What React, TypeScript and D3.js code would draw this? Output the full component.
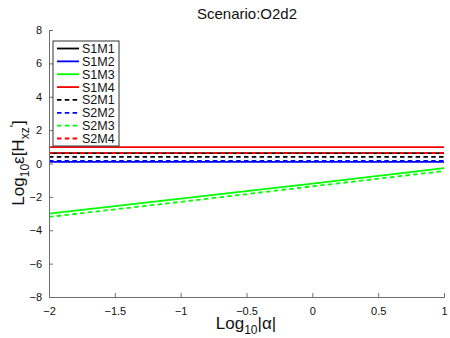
import React, { useEffect, useRef } from 'react';
import * as d3 from 'd3';

const WIDTH = 450;
const HEIGHT = 338;
const MARGIN = { top: 30, right: 6, bottom: 41, left: 49 };

// log10|alpha| sample points
const xs = [-2, -1, 0, 1];

// series values
const s1m1 = [0.62, 0.62, 0.62, 0.62];
const s1m2 = [0.1, 0.1, 0.1, 0.1];
const s1m3 = [-3.0, -2.1, -1.2, -0.28];
const s1m4 = [0.98, 0.98, 0.98, 0.98];
const s2m1 = [0.4, 0.4, 0.4, 0.4];
const s2m2 = [0.16, 0.16, 0.16, 0.16];
const s2m3 = [-3.2, -2.3, -1.37, -0.45];
const s2m4 = [0.63, 0.63, 0.63, 0.63];

const seriesNames = ['S1M1', 'S1M2', 'S1M3', 'S1M4', 'S2M1', 'S2M2', 'S2M3', 'S2M4'];
const seriesValues = [s1m1, s1m2, s1m3, s1m4, s2m1, s2m2, s2m3, s2m4];
const seriesColors = ['#000000', '#0000ff', '#00ff00', '#ff0000', '#000000', '#0000ff', '#00ff00', '#ff0000'];
const seriesDashed = [false, false, false, false, true, true, true, true];

const xTicks = [-2, -1.5, -1, -0.5, 0, 0.5, 1];
const yTicks = [-8, -6, -4, -2, 0, 2, 4, 6, 8];

const FONT = '"Liberation Sans", Arial, sans-serif';
const AXIS_COLOR = '#6e6e6e';

export default function App() {
    const plotRef = useRef<SVGGElement>(null);

    useEffect(() => {
        const root = d3.select(plotRef.current);
        root.selectAll('*').remove();

        const plotW = WIDTH - MARGIN.left - MARGIN.right;
        const plotH = HEIGHT - MARGIN.top - MARGIN.bottom;

        const x = d3.scaleLinear().domain([-2, 1]).range([0, plotW]);
        const y = d3.scaleLinear().domain([-8, 8]).range([plotH, 0]);

        const g = root
            .append('g')
            .attr('transform', `translate(${MARGIN.left},${MARGIN.top})`);

        // lines
        const line = d3
            .line<number>()
            .x((_, i) => x(xs[i]))
            .y((d) => y(d));

        seriesValues.forEach((vals, i) => {
            g.append('path')
                .datum(vals)
                .attr('fill', 'none')
                .attr('stroke', seriesColors[i])
                .attr('stroke-width', 1.8)
                .attr('stroke-dasharray', seriesDashed[i] ? '4.5,3.3' : null)
                .attr('d', line);
        });

        // axes (MATLAB style, ticks inward, box off)
        const xAxis = d3
            .axisBottom(x)
            .tickValues(xTicks)
            .tickSizeInner(-4)
            .tickSizeOuter(-4)
            .tickPadding(10)
            .tickFormat((d) => d3.format('~g')(d as number).replace('-', '\u2212'));
        const yAxis = d3
            .axisLeft(y)
            .tickValues(yTicks)
            .tickSizeInner(-4)
            .tickSizeOuter(-4)
            .tickPadding(7)
            .tickFormat((d) => String(d).replace('-', '\u2212'));

        const gx = g.append('g').attr('transform', `translate(0,${plotH})`).call(xAxis);
        const gy = g.append('g').call(yAxis);

        [gx, gy].forEach((a) => {
            a.selectAll('path').attr('stroke', AXIS_COLOR);
            a.selectAll('line').attr('stroke', AXIS_COLOR);
            a.selectAll('text')
                .attr('fill', '#111')
                .style('font-family', FONT)
                .style('font-size', '11px');
        });

        // legend
        const lg = g.append('g').attr('transform', 'translate(4,11)');
        lg.append('rect')
            .attr('x', 0)
            .attr('y', 0)
            .attr('width', 66)
            .attr('height', 105)
            .attr('fill', '#fff')
            .attr('stroke', '#333')
            .attr('stroke-width', 1);

        seriesNames.forEach((name, i) => {
            const yy = 7.5 + i * 12.86;
            lg.append('line')
                .attr('x1', 4)
                .attr('x2', 26)
                .attr('y1', yy)
                .attr('y2', yy)
                .attr('stroke', seriesColors[i])
                .attr('stroke-width', 1.8)
                .attr('stroke-dasharray', seriesDashed[i] ? '4.5,3.3' : null);
            lg.append('text')
                .attr('x', 29)
                .attr('y', yy)
                .attr('dy', '0.36em')
                .attr('fill', '#111')
                .style('font-family', FONT)
                .style('font-size', '12.5px')
                .text(name);
        });
    }, []);

    return (
        <svg
            width={WIDTH}
            height={HEIGHT}
            style={{ position: 'absolute', left: 0, top: 0, background: '#fff' }}
        >
            <g ref={plotRef} />
            <text
                x={247}
                y={19}
                textAnchor="middle"
                fontFamily={FONT}
                fontSize={15}
                fill="#111"
            >
                Scenario:O2d2
            </text>
            <text
                x={246}
                y={329}
                textAnchor="middle"
                fontFamily={FONT}
                fontSize={17}
                fill="#111"
            >
                Log<tspan dy={5} fontSize={12}>10</tspan>
                <tspan dy={-5}>|α|</tspan>
            </text>
            <text
                transform="translate(24,163) rotate(-90)"
                textAnchor="middle"
                fontFamily={FONT}
                fontSize={17}
                fill="#111"
            >
                Log<tspan dy={5} fontSize={12}>10</tspan>
                <tspan dy={-5}>ε[H</tspan>
                <tspan dy={5} fontSize={12}>xz</tspan>
                <tspan dy={-10} fontSize={12}>'</tspan>
                <tspan dy={5}>]</tspan>
            </text>
        </svg>
    );
}
